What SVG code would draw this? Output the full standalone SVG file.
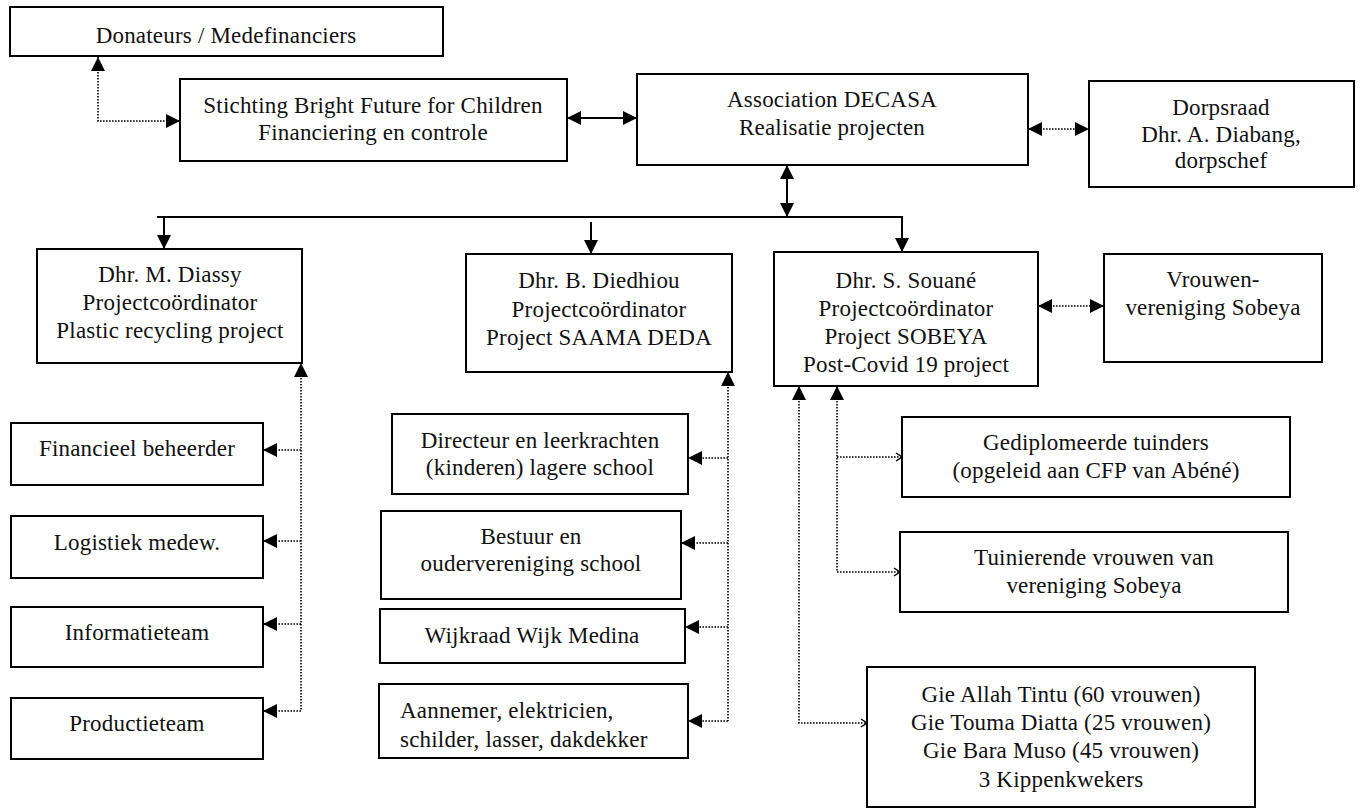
<svg xmlns="http://www.w3.org/2000/svg" width="1360" height="809" viewBox="0 0 1360 809">
<style>
  .box { fill: #ffffff; stroke: #000000; stroke-width: 2; }
  .t { font-family: "Liberation Serif", "Times New Roman", serif; font-size: 23px; letter-spacing: 0.2px; fill: #111111; text-anchor: middle; }
  .l { text-anchor: start; }
  .solid { fill: none; stroke: #000000; stroke-width: 2; }
  .dot { fill: none; stroke: #000000; stroke-width: 1.6; stroke-dasharray: 1.6 1.4; }
  .both { marker-start: url(#ah); marker-end: url(#ah); }
  .end { marker-end: url(#ah); }
  .start { marker-start: url(#ah); }
  .chev { marker-end: url(#ch); }
</style>
<defs>
  <marker id="ah" markerUnits="userSpaceOnUse" markerWidth="15" markerHeight="14" refX="14" refY="7" orient="auto-start-reverse">
    <path d="M0,0 L14,7 L0,14 Z" fill="#000000"/>
  </marker>
  <marker id="ch" markerUnits="userSpaceOnUse" markerWidth="9" markerHeight="10" refX="7" refY="5" orient="auto">
    <path d="M1,1 L7,5 L1,9" fill="none" stroke="#000000" stroke-width="1.5"/>
  </marker>
</defs>

<g id="connectors">
  <path class="dot both" d="M98,57 V121 H180"/>
  <path class="solid both" d="M567,118 H637"/>
  <path class="dot both" d="M1028,129 H1089"/>
  <path class="solid both" d="M787,165 V217"/>
  <path class="solid" d="M157,217 H903"/>
  <path class="solid end" d="M164,217 V249"/>
  <path class="solid end" d="M591,222 V254"/>
  <path class="solid end" d="M902,217 V252"/>
  <path class="dot both" d="M1038,306 H1104"/>
  <path class="dot start" d="M301,363 V711"/>
  <path class="dot end" d="M301,450 H263"/>
  <path class="dot end" d="M301,541 H263"/>
  <path class="dot end" d="M301,624 H263"/>
  <path class="dot end" d="M301,711 H263"/>
  <path class="dot start" d="M728,372 V721"/>
  <path class="dot end" d="M728,458 H688"/>
  <path class="dot end" d="M728,543 H681"/>
  <path class="dot end" d="M728,627 H685"/>
  <path class="dot end" d="M728,721 H688"/>
  <path class="dot start chev" d="M799,386 V723 H867"/>
  <path class="dot start chev" d="M837,386 V572 H900"/>
  <path class="dot chev" d="M837,457 H902"/>
</g>

<g id="donateurs">
  <rect class="box" x="10" y="7" width="433" height="49"/>
  <text class="t" x="226" y="43">Donateurs / Medefinanciers</text>
</g>
<g id="stichting">
  <rect class="box" x="180" y="79" width="387" height="82"/>
  <text class="t" x="373" y="113">Stichting Bright Future for Children</text>
  <text class="t" x="373" y="140">Financiering en controle</text>
</g>
<g id="association">
  <rect class="box" x="637" y="74" width="391" height="91"/>
  <text class="t" x="832" y="107">Association DECASA</text>
  <text class="t" x="832" y="135">Realisatie projecten</text>
</g>
<g id="dorpsraad">
  <rect class="box" x="1089" y="81" width="265" height="106"/>
  <text class="t" x="1221" y="115">Dorpsraad</text>
  <text class="t" x="1221" y="142">Dhr. A. Diabang,</text>
  <text class="t" x="1221" y="168">dorpschef</text>
</g>
<g id="diassy">
  <rect class="box" x="37" y="249" width="265" height="114"/>
  <text class="t" x="170" y="282">Dhr. M. Diassy</text>
  <text class="t" x="170" y="310">Projectcoördinator</text>
  <text class="t" x="170" y="338">Plastic recycling project</text>
</g>
<g id="diedhiou">
  <rect class="box" x="466" y="254" width="266" height="118"/>
  <text class="t" x="599" y="288">Dhr. B. Diedhiou</text>
  <text class="t" x="599" y="317">Projectcoördinator</text>
  <text class="t" x="599" y="345">Project SAAMA DEDA</text>
</g>
<g id="souane">
  <rect class="box" x="774" y="252" width="264" height="134"/>
  <text class="t" x="906" y="288">Dhr. S. Souané</text>
  <text class="t" x="906" y="316">Projectcoördinator</text>
  <text class="t" x="906" y="344">Project SOBEYA</text>
  <text class="t" x="906" y="372">Post-Covid 19 project</text>
</g>
<g id="vrouwen">
  <rect class="box" x="1104" y="254" width="218" height="108"/>
  <text class="t" x="1213" y="287">Vrouwen-</text>
  <text class="t" x="1213" y="315">vereniging Sobeya</text>
</g>
<g id="financieel">
  <rect class="box" x="11" y="423" width="252" height="62"/>
  <text class="t" x="137" y="456">Financieel beheerder</text>
</g>
<g id="logistiek">
  <rect class="box" x="11" y="516" width="252" height="62"/>
  <text class="t" x="137" y="550">Logistiek medew.</text>
</g>
<g id="informatie">
  <rect class="box" x="11" y="607" width="252" height="60"/>
  <text class="t" x="137" y="640">Informatieteam</text>
</g>
<g id="productie">
  <rect class="box" x="11" y="698" width="252" height="61"/>
  <text class="t" x="137" y="731">Productieteam</text>
</g>
<g id="directeur">
  <rect class="box" x="392" y="414" width="296" height="80"/>
  <text class="t" x="540" y="448">Directeur en leerkrachten</text>
  <text class="t" x="540" y="475">(kinderen) lagere school</text>
</g>
<g id="bestuur">
  <rect class="box" x="381" y="511" width="300" height="88"/>
  <text class="t" x="531" y="544">Bestuur en</text>
  <text class="t" x="531" y="571">oudervereniging school</text>
</g>
<g id="wijkraad">
  <rect class="box" x="380" y="609" width="305" height="54"/>
  <text class="t" x="532" y="643">Wijkraad Wijk Medina</text>
</g>
<g id="aannemer">
  <rect class="box" x="379" y="684" width="309" height="74"/>
  <text class="t l" x="400" y="718">Aannemer, elektricien,</text>
  <text class="t l" x="400" y="747">schilder, lasser, dakdekker</text>
</g>
<g id="gediplomeerd">
  <rect class="box" x="902" y="417" width="388" height="80"/>
  <text class="t" x="1096" y="450">Gediplomeerde tuinders</text>
  <text class="t" x="1096" y="478">(opgeleid aan CFP van Abéné)</text>
</g>
<g id="tuinierende">
  <rect class="box" x="900" y="532" width="388" height="80"/>
  <text class="t" x="1094" y="565">Tuinierende vrouwen van</text>
  <text class="t" x="1094" y="593">vereniging Sobeya</text>
</g>
<g id="gie">
  <rect class="box" x="867" y="667" width="388" height="140"/>
  <text class="t" x="1061" y="702">Gie Allah Tintu (60 vrouwen)</text>
  <text class="t" x="1061" y="730">Gie Touma Diatta (25 vrouwen)</text>
  <text class="t" x="1061" y="758">Gie Bara Muso (45 vrouwen)</text>
  <text class="t" x="1061" y="787">3 Kippenkwekers</text>
</g>
</svg>
